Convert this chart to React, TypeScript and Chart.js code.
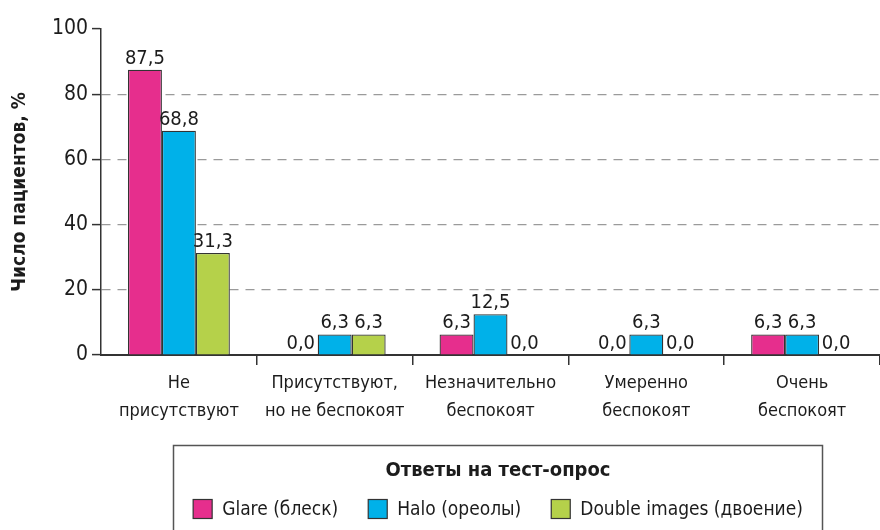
import React, { useEffect, useRef } from "react";
import { Chart, registerables } from "chart.js";

Chart.register(...registerables);

const categories: string[][] = [
  ["Не", "присутствуют"],
  ["Присутствуют,", "но не беспокоят"],
  ["Незначительно", "беспокоят"],
  ["Умеренно", "беспокоят"],
  ["Очень", "беспокоят"],
];
const seriesNames = ["Glare (блеск)", "Halo (ореолы)", "Double images (двоение)"];
const glare = [87.5, 0.0, 6.3, 0.0, 6.3];
const halo = [68.8, 6.3, 12.5, 6.3, 6.3];
const doubleImages = [31.3, 6.3, 0.0, 0.0, 0.0];
const seriesColors = ["#E62E8D", "#00B1E9", "#B5D14A"];
const yTickValues = [0, 20, 40, 60, 80, 100];
const yTitle = "Число пациентов, %";
const legendTitle = "Ответы на тест-опрос";

const FONT = "'Liberation Sans Narrow', 'DejaVu Sans Condensed', 'Roboto', sans-serif";
const TEXT = "#1c1c1c";
const LINE = "#333";

const fmt = (v: number) => v.toFixed(1).replace(".", ",");

const dataLabels = {
  id: "dataLabels",
  afterDatasetsDraw(chart: any) {
    const ctx = chart.ctx;
    ctx.save();
    ctx.font = `20px ${FONT}`;
    ctx.fillStyle = TEXT;
    ctx.textAlign = "center";
    ctx.textBaseline = "alphabetic";
    chart.data.datasets.forEach((ds: any, di: number) => {
      const meta = chart.getDatasetMeta(di);
      meta.data.forEach((el: any, i: number) => {
        ctx.fillText(fmt(ds.data[i]), el.x, el.y - 6);
      });
    });
    ctx.restore();
  },
};

const legendBox = {
  id: "legendBox",
  afterDraw(chart: any) {
    const ctx = chart.ctx;
    ctx.save();
    ctx.strokeStyle = "#555";
    ctx.lineWidth = 1.5;
    ctx.strokeRect(173.5, 445.5, 649, 100);
    ctx.font = `bold 20px ${FONT}`;
    ctx.fillStyle = TEXT;
    ctx.textAlign = "center";
    ctx.textBaseline = "middle";
    ctx.fillText(legendTitle, 498, 471);
    ctx.font = `19px ${FONT}`;
    const box = 19, gapText = 10, gapItem = 30;
    const widths = seriesNames.map((n) => ctx.measureText(n).width);
    const total = widths.reduce((a, w) => a + box + gapText + w, 0) + gapItem * (seriesNames.length - 1);
    let x = 498 - total / 2;
    const y = 509;
    ctx.textAlign = "left";
    seriesNames.forEach((n, i) => {
      ctx.fillStyle = seriesColors[i];
      ctx.fillRect(x, y - box / 2, box, box);
      ctx.strokeStyle = LINE;
      ctx.lineWidth = 1.2;
      ctx.strokeRect(x, y - box / 2, box, box);
      ctx.fillStyle = TEXT;
      ctx.fillText(n, x + box + gapText, y + 1);
      x += box + gapText + widths[i] + gapItem;
    });
    ctx.restore();
  },
};

export default function App() {
  const ref = useRef<HTMLCanvasElement | null>(null);
  useEffect(() => {
    if (!ref.current) return;
    const series = [glare, halo, doubleImages];
    const chart = new Chart(ref.current, {
      type: "bar",
      data: {
        labels: categories,
        datasets: series.map((d, i) => ({
          label: seriesNames[i],
          data: d,
          backgroundColor: seriesColors[i],
          borderColor: LINE,
          borderWidth: 1.3,
          barPercentage: 1,
          categoryPercentage: 0.654,
        })),
      },
      options: {
        responsive: false,
        animation: false,
        layout: { padding: { top: 29, right: 0, bottom: 0, left: 0 } },
        plugins: { legend: { display: false }, tooltip: { enabled: false } },
        scales: {
          x: {
            afterFit: (s: any) => { s.height = 175; },
            grid: {
              drawOnChartArea: false,
              tickLength: 10,
              tickColor: (c: any) => (c.index === 0 ? "transparent" : LINE),
              lineWidth: 1.5,
            },
            border: { color: LINE, width: 2 },
            ticks: {
              color: TEXT,
              font: { family: FONT, size: 18, lineHeight: 1.55 },
              padding: 4,
              maxRotation: 0,
              autoSkip: false,
            },
          },
          y: {
            min: 0,
            max: 100,
            afterFit: (s: any) => { s.width = 101; },
            afterBuildTicks: (s: any) => { s.ticks = yTickValues.map((v) => ({ value: v })); },
            grid: {
              color: (c: any) => (c.tick && (c.tick.value === 0 || c.tick.value === 100) ? "transparent" : "#9a9a9a"),
              lineWidth: 1.2,
              tickLength: 9,
              tickColor: LINE,
              tickWidth: 1.5,
              tickBorderDash: [],
            },
            border: { color: LINE, width: 1.5, dash: [9, 7] },
            ticks: {
              color: TEXT,
              font: { family: FONT, size: 21 },
              padding: 4,
            },
            title: {
              display: true,
              text: yTitle,
              color: TEXT,
              font: { family: FONT, size: 19, weight: "bold" },
              padding: { top: 9, bottom: 0 },
            },
          },
        },
      } as any,
      plugins: [dataLabels, legendBox],
    });
    return () => chart.destroy();
  }, []);
  return (
    <div style={{ position: "absolute", left: 0, top: 0, width: 880, height: 530, background: "#fff" }}>
      <canvas ref={ref} width={880} height={530} />
    </div>
  );
}
